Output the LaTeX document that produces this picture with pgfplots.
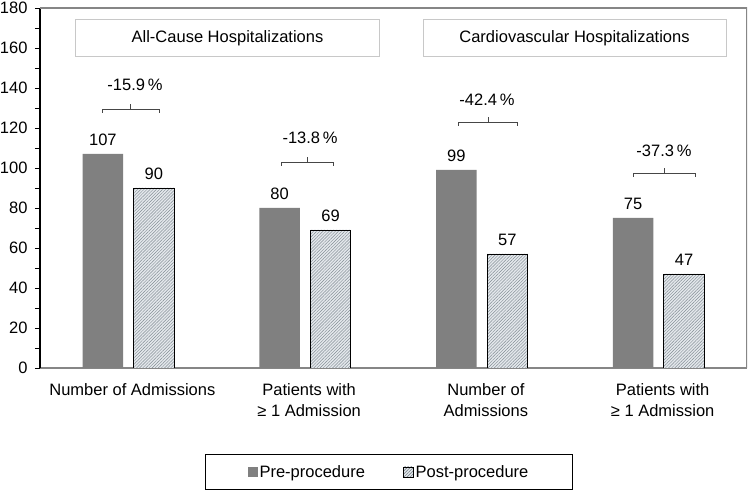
\documentclass[border=0pt]{standalone}
\usepackage{fontspec}
\setmainfont{Liberation Sans}
\usepackage{pgfplots}
\pgfplotsset{compat=1.18}
\usetikzlibrary{patterns.meta}
\definecolor{pregray}{RGB}{128,128,128}
\definecolor{postfill}{RGB}{228,232,236}
\definecolor{hatch}{RGB}{130,140,148}
\definecolor{framegray}{RGB}{134,134,134}
\definecolor{boxgray}{RGB}{200,200,200}
\definecolor{brk}{RGB}{70,70,70}
\newcommand\f{\fontsize{16.5bp}{21.5bp}\selectfont}
\begin{document}
\begin{tikzpicture}[x=1bp,y=1bp]
\useasboundingbox (0,0) rectangle (748,492);
\begin{axis}[at={(40bp,124bp)}, anchor=south west, scale only axis,
  width=707bp, height=360bp,
  ybar=10.5bp, bar width=40.5bp,
  xmin=-0.5, xmax=3.5, ymin=0, ymax=180,
  axis lines*=left,
  x axis line style={draw=framegray, line width=2bp},
  y axis line style={draw=black, line width=1.2bp},
  xtick={0,1,2,3},
  xticklabels={{Number of Admissions},{Patients with\\≥ 1 Admission},{Number of\\Admissions},{Patients with\\≥ 1 Admission}},
  xticklabel style={align=center, font=\f, anchor=north, yshift=-7bp, xshift=4bp},
  major x tick style={draw=none},
  ytick={0,20,...,180}, minor y tick num=1,
  tick align=outside, major tick length=5bp, minor tick length=5bp,
  y tick style={black, line width=0.8bp},
  yticklabel style={font=\f, xshift=-4bp},
  /pgf/number format/assume math mode=true,
  nodes near coords,
  every node near coord/.append style={font=\f, inner sep=0pt, yshift=8bp, text=black},
  legend style={at={(0.4936,-0.2889)}, anchor=center, draw=black, line width=1.4bp,
    font=\f, inner xsep=42bp, inner ysep=9bp,
    /tikz/every even column/.append style={column sep=36bp}},
  legend columns=2, legend cell align=left,
]
\addplot[fill=pregray, draw=none,
  legend image code/.code={\fill[pregray] (0bp,-5bp) rectangle (10bp,5bp);}]
  coordinates {(0,107) (1,80) (2,99) (3,75)};
\addlegendentry{Pre-procedure}
\addplot[fill=postfill, draw=black, line width=0.8bp,
  postaction={pattern={Lines[angle=45,distance=2.2bp,line width=0.45bp]}, pattern color=hatch},
  legend image code/.code={\draw[fill=postfill, draw=black, line width=0.6bp, postaction={pattern={Lines[angle=45,distance=2.2bp,line width=0.4bp]}, pattern color=hatch}] (0bp,-5bp) rectangle (10bp,5bp);}]
  coordinates {(0,90) (1,69) (2,57) (3,47)};
\addlegendentry{Post-procedure}
% top and right frame
\draw[framegray, line width=1.5bp] (rel axis cs:0,1) -- (rel axis cs:1,1) -- (rel axis cs:1,0);
% brackets
\draw[brk, line width=0.9bp] ([yshift=-4bp]axis cs:-0.144,129.5) -- (axis cs:-0.144,129.5) -- (axis cs:0.173,129.5) -- ++(0bp,-4bp);
\draw[brk, line width=0.9bp] (axis cs:0.0145,129.5) -- ++(0bp,5bp);
\node[font=\f] at (axis cs:0.0375,141.5) {-15.9\,\%};
\draw[brk, line width=0.9bp] ([yshift=-4bp]axis cs:0.864,103) -- (axis cs:0.864,103) -- (axis cs:1.158,103) -- ++(0bp,-4bp);
\draw[brk, line width=0.9bp] (axis cs:1.011,103) -- ++(0bp,5bp);
\node[font=\f] at (axis cs:1.028,115) {-13.8\,\%};
\draw[brk, line width=0.9bp] ([yshift=-4bp]axis cs:1.865,123) -- (axis cs:1.865,123) -- (axis cs:2.204,123) -- ++(0bp,-4bp);
\draw[brk, line width=0.9bp] (axis cs:2.0345,123) -- ++(0bp,5bp);
\node[font=\f] at (axis cs:2.029,134) {-42.4\,\%};
\draw[brk, line width=0.9bp] ([yshift=-4bp]axis cs:2.855,97.5) -- (axis cs:2.855,97.5) -- (axis cs:3.211,97.5) -- ++(0bp,-4bp);
\draw[brk, line width=0.9bp] (axis cs:3.033,97.5) -- ++(0bp,5bp);
\node[font=\f] at (axis cs:3.03,108.5) {-37.3\,\%};
\end{axis}
\node[draw=boxgray, line width=1bp, minimum width=303bp, minimum height=37bp, font=\f] at (227.5,453.5) {All-Cause Hospitalizations};
\node[draw=boxgray, line width=1bp, minimum width=303bp, minimum height=37bp, font=\f] at (574.5,453.5) {Cardiovascular Hospitalizations};
\end{tikzpicture}
\end{document}
